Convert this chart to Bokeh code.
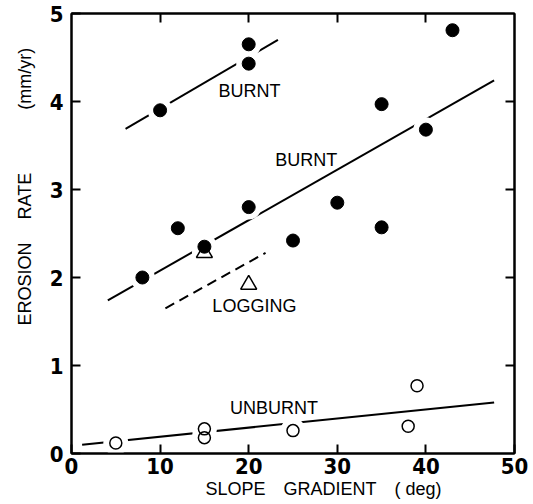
from bokeh.plotting import figure
from bokeh.models import LinearAxis, FixedTicker, Range1d, Label, Title
from bokeh.embed import file_html
from bokeh.resources import INLINE

# ---- data ----
burnt_upper_x = [10, 20, 20]
burnt_upper_y = [3.90, 4.43, 4.65]
burnt_main_x = [8, 12, 15, 20, 25, 30, 35, 35, 40, 43]
burnt_main_y = [2.00, 2.56, 2.35, 2.80, 2.42, 2.85, 3.97, 2.57, 3.68, 4.81]
logging_x = [15, 20]
logging_y = [2.28, 1.92]
unburnt_x = [5, 15, 15, 25, 38, 39]
unburnt_y = [0.12, 0.28, 0.18, 0.26, 0.31, 0.77]

# fitted lines (end points)
upper_line_x = [6.1, 23.3]
upper_line_y = [3.69, 4.70]
main_line_x = [4.1, 47.7]
main_line_y = [1.74, 4.24]
logging_line_x = [10.6, 21.9]
logging_line_y = [1.65, 2.28]
unburnt_line_x = [1.2, 47.7]
unburnt_line_y = [0.10, 0.58]

x_ticks = [0, 10, 20, 30, 40, 50]
y_ticks = [0, 1, 2, 3, 4, 5]

x_title_text = "SLOPE\u2003GRADIENT\u2003( deg)"
y_title_text = "EROSION\u2003 RATE\u2003\u2003\u2003\u2002(mm/yr)"

TICK_FONT = "'DejaVu Sans Condensed', 'Liberation Sans Narrow', sans-serif"
TEXT_FONT = "Liberation Sans"

p = figure(output_backend="svg", toolbar_location=None,
           frame_width=443, frame_height=440,
           min_border_left=71, min_border_right=19,
           min_border_top=13, min_border_bottom=51,
           x_range=Range1d(0, 50), y_range=Range1d(0, 5),
           x_axis_type=None, y_axis_type=None)
p.xgrid.visible = False
p.ygrid.visible = False
p.outline_line_color = "black"
p.outline_line_width = 2
p.background_fill_color = "white"
p.border_fill_color = "white"


def style_axis(ax, ticks, labels=True):
    ax.ticker = FixedTicker(ticks=ticks)
    ax.axis_line_width = 2
    ax.axis_line_color = "black"
    ax.major_tick_in = 9
    ax.major_tick_out = 0
    ax.major_tick_line_width = 2
    ax.minor_tick_line_color = None
    if labels:
        ax.major_label_text_font = TICK_FONT
        ax.major_label_text_font_style = "bold"
        ax.major_label_text_font_size = "22px"
        ax.major_label_text_color = "black"
    else:
        ax.major_label_overrides = {t: "" for t in ticks}
        ax.major_label_standoff = 0


bottom = LinearAxis()
style_axis(bottom, x_ticks)
bottom.major_label_standoff = 4
p.add_layout(bottom, "below")

left = LinearAxis()
style_axis(left, y_ticks)
left.major_label_standoff = 8
p.add_layout(left, "left")

top = LinearAxis()
style_axis(top, x_ticks[1:-1], labels=False)
p.add_layout(top, "above")

right = LinearAxis()
style_axis(right, y_ticks[1:-1], labels=False)
p.add_layout(right, "right")

# ---- axis titles ----
p.add_layout(Title(text=x_title_text, align="left", offset=134,
                   text_font=TEXT_FONT, text_font_size="18px",
                   text_font_style="normal", text_color="black",
                   standoff=0), "below")
p.add_layout(Title(text=y_title_text, align="left", offset=128,
                   text_font=TEXT_FONT, text_font_size="18px",
                   text_font_style="normal", text_color="black",
                   standoff=24), "left")

# ---- lines ----
p.line(upper_line_x, upper_line_y, line_color="black", line_width=2)
p.line(main_line_x, main_line_y, line_color="black", line_width=2)
p.line(logging_line_x, logging_line_y, line_color="black", line_width=2,
       line_dash="10 6")
p.line(unburnt_line_x, unburnt_line_y, line_color="black", line_width=2)

# ---- white halos that break lines around markers ----
all_x = burnt_upper_x + burnt_main_x + logging_x + unburnt_x
all_y = burnt_upper_y + burnt_main_y + logging_y + unburnt_y
p.scatter(all_x, all_y, marker="circle", size=25,
          fill_color="white", line_color=None)

# ---- markers ----
p.scatter(logging_x, logging_y, marker="triangle", size=16,
          fill_color="white", line_color="black", line_width=1.5)
p.scatter(burnt_upper_x, burnt_upper_y, marker="circle", size=13,
          fill_color="black", line_color="black")
p.scatter(burnt_main_x, burnt_main_y, marker="circle", size=13,
          fill_color="black", line_color="black")
p.scatter(unburnt_x, unburnt_y, marker="circle", size=12,
          fill_color=None, line_color="black", line_width=1.5)

# ---- series labels ----
series_labels = [("BURNT", 16.6, 4.125), ("BURNT", 23.0, 3.34),
                 ("LOGGING", 15.9, 1.68), ("UNBURNT", 17.9, 0.52)]
for txt, lx, ly in series_labels:
    p.add_layout(Label(x=lx, y=ly, text=txt, text_font=TEXT_FONT,
                       text_font_size="18px", text_align="left",
                       text_baseline="middle", text_color="black"))

open("out.html", "w").write(file_html(p, INLINE))
